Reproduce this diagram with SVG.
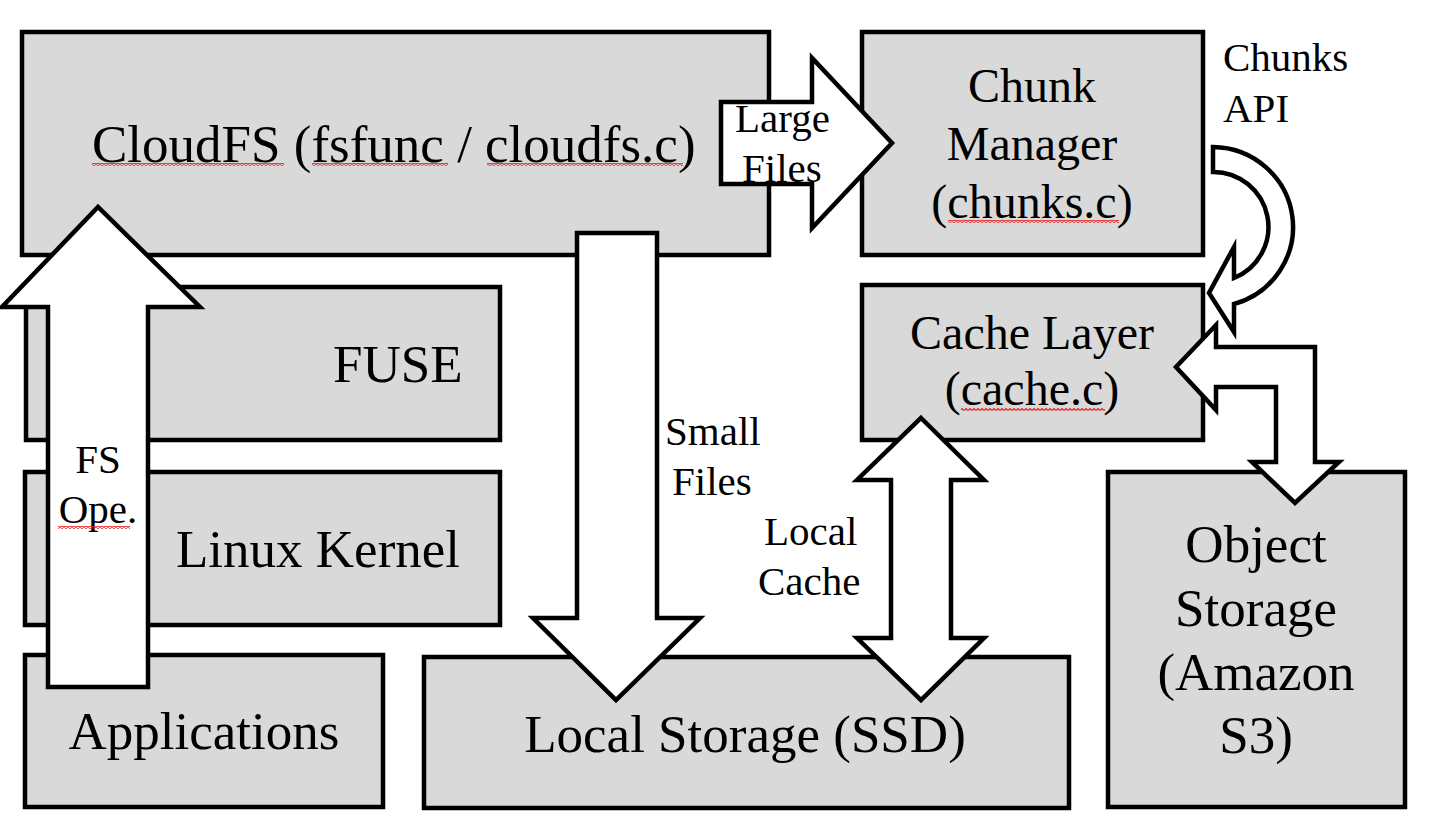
<svg xmlns="http://www.w3.org/2000/svg" width="1436" height="831" viewBox="0 0 1436 831">
<style>
.box{fill:#d9d9d9;stroke:#000;stroke-width:4.5}
.arr{fill:#fff;stroke:#000;stroke-width:4.5;stroke-linejoin:miter;stroke-miterlimit:10}
.big{font-family:"Liberation Serif","Times New Roman",serif;font-size:53px;fill:#000}
.mid{font-family:"Liberation Serif","Times New Roman",serif;font-size:48px;fill:#000}
.sm{font-family:"Liberation Serif","Times New Roman",serif;font-size:41px;fill:#000}
.sq{fill:url(#squig)}
</style>
<defs>
<pattern id="squig" width="4" height="3" patternUnits="userSpaceOnUse">
<path d="M0,2.5 L2,0.5 L4,2.5" fill="none" stroke="#e82020" stroke-width="1.1"/>
</pattern>
</defs>
<rect width="1436" height="831" fill="#fff"/>
<g id="cloudfs">
<rect class="box" x="22" y="32" width="747" height="223"/>
<text class="big" x="92" y="162">CloudFS (fsfunc / cloudfs.c)</text>
<rect class="sq" x="92" y="163" width="192" height="3"/>
<rect class="sq" x="312" y="163" width="136" height="3"/>
<rect class="sq" x="487" y="163" width="196" height="3"/>
</g>
<g id="chunk-manager">
<rect class="box" x="862" y="32" width="341" height="223"/>
<text class="mid" text-anchor="middle" x="1032" y="102">Chunk</text>
<text class="mid" text-anchor="middle" x="1032" y="160">Manager</text>
<text class="mid" text-anchor="middle" x="1032" y="218">(chunks.c)</text>
<rect class="sq" x="948" y="220" width="171" height="3"/>
</g>
<g id="cache-layer">
<rect class="box" x="862" y="285" width="341" height="155"/>
<text class="mid" text-anchor="middle" x="1032" y="349">Cache Layer</text>
<text class="mid" text-anchor="middle" x="1032" y="405">(cache.c)</text>
<rect class="sq" x="961" y="408" width="144" height="3"/>
</g>
<g id="fuse">
<rect class="box" x="26" y="287" width="474" height="153"/>
<text class="big" x="333" y="382">FUSE</text>
</g>
<g id="linux-kernel">
<rect class="box" x="25" y="472" width="475" height="153"/>
<text class="big" x="176" y="567">Linux Kernel</text>
</g>
<g id="applications">
<rect class="box" x="25" y="655" width="358" height="152"/>
<text class="big" text-anchor="middle" x="204" y="749">Applications</text>
</g>
<g id="local-storage">
<rect class="box" x="424" y="657" width="645" height="151"/>
<text class="big" text-anchor="middle" x="745" y="752">Local Storage (SSD)</text>
</g>
<g id="object-storage">
<rect class="box" x="1108" y="472" width="297" height="335"/>
<text class="big" text-anchor="middle" x="1256" y="562">Object</text>
<text class="big" text-anchor="middle" x="1256" y="626">Storage</text>
<text class="big" text-anchor="middle" x="1256" y="690">(Amazon</text>
<text class="big" text-anchor="middle" x="1256" y="753">S3)</text>
</g>
<g id="connectors">
<path class="arr" d="M48,687 L48,307 L2,307 L98,207 L200,307 L148,307 L148,687 Z"/>
<path class="arr" d="M577,233 L657,233 L657,618 L700,618 L616,700 L533,618 L577,618 Z"/>
<path class="arr" d="M721,102 L812,102 L812,58 L892,143 L812,228 L812,184 L721,184 Z"/>
<path class="arr" d="M921,418 L984,480 L951,480 L951,638 L984,638 L921,700 L857,638 L891,638 L891,480 L857,480 Z"/>
<path class="arr" d="M1213,147 A81,80 0 0 1 1234,304 L1234,332 L1209,293 L1234,247 L1234,278 A55,55 0 0 0 1213,172 Z"/>
<path class="arr" d="M1176,367 L1216,325 L1216,347 L1315,347 L1315,462 L1339,462 L1295,503 L1252,462 L1276,462 L1276,387 L1216,387 L1216,410 Z"/>
<text class="sm" text-anchor="middle" x="98" y="473">FS</text>
<text class="sm" text-anchor="middle" x="98" y="523">Ope.</text>
<rect class="sq" x="58" y="526" width="72" height="3"/>
<text class="sm" x="665" y="445">Small</text>
<text class="sm" x="672" y="495">Files</text>
<text class="sm" x="735" y="132">Large</text>
<text class="sm" x="742" y="182">Files</text>
<text class="sm" x="764" y="545">Local</text>
<text class="sm" x="758" y="595">Cache</text>
<text class="sm" x="1223" y="71">Chunks</text>
<text class="sm" x="1223" y="122">API</text>
</g>
</svg>
